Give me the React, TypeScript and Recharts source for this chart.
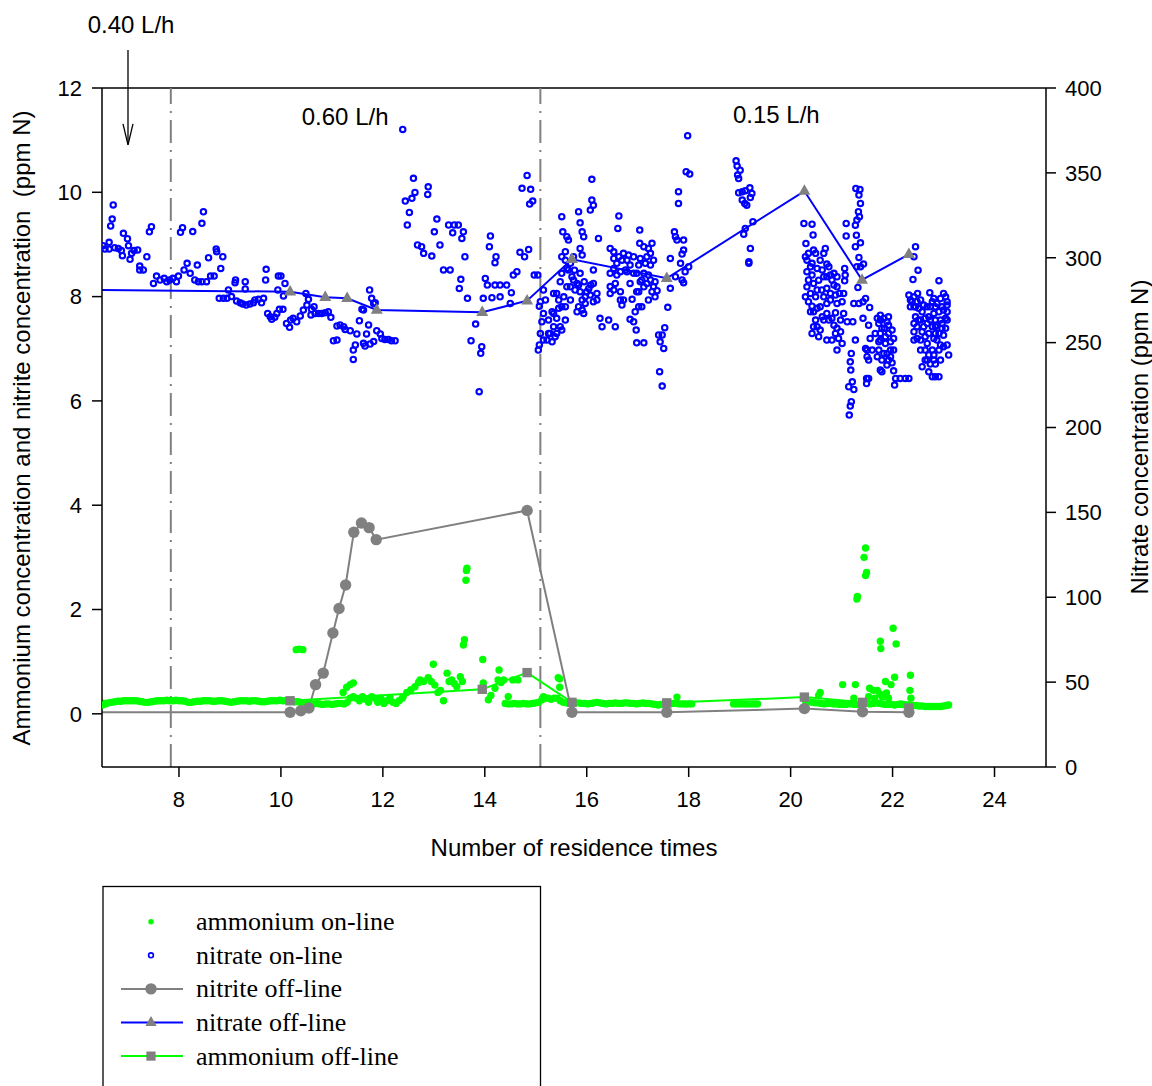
import React from "react";
import { ComposedChart, Scatter, Line, XAxis, YAxis, ReferenceLine } from "recharts";

const W = 1152;
const H = 1086;
const PLOT = { left: 102, top: 88, right: 1046, bottom: 767 };

const xDomain: [number, number] = [6.49, 25.01];
const leftDomain: [number, number] = [-1.02, 12];
const rightDomain: [number, number] = [0, 400];
const xTicks = [8, 10, 12, 14, 16, 18, 20, 22, 24];
const leftTicks = [0, 2, 4, 6, 8, 10, 12];
const rightTicks = [0, 50, 100, 150, 200, 250, 300, 350, 400];

// flow-rate changes (residence times)
const flowChanges = [7.84, 15.09];
const rateLabels = [
  { text: "0.40 L/h", x: 7.06, y: 13.05 },
  { text: "0.60 L/h", x: 11.26, y: 11.3 },
  { text: "0.15 L/h", x: 19.72, y: 11.33 },
];
const arrow = { x: 7.0, from: 12.73, to: 10.91 };

// off-line samples
const nitriteOffline: [number, number][] = [
  [6.3, 0.03], [10.18, 0.03], [10.39, 0.06], [10.55, 0.11], [10.68, 0.56], [10.83, 0.78],
  [11.02, 1.55], [11.14, 2.02], [11.27, 2.47], [11.43, 3.48], [11.58, 3.66], [11.73, 3.57],
  [11.87, 3.34], [14.83, 3.9], [15.71, 0.03], [17.57, 0.03], [20.27, 0.1], [21.41, 0.04], [22.32, 0.03],
];
const nitrateOffline: [number, number][] = [
  [6.3, 281.1], [10.18, 280.0], [10.87, 276.7], [11.3, 276.1], [11.88, 269.2], [13.95, 267.9],
  [14.83, 274.7], [15.71, 299.1], [17.57, 287.9], [20.27, 339.3], [21.4, 286.9], [22.32, 302.0],
];
const ammoniumOffline: [number, number][] = [
  [6.3, 0.25], [10.18, 0.25], [13.95, 0.47], [14.83, 0.79], [15.71, 0.22], [17.57, 0.21],
  [20.27, 0.32], [21.41, 0.22], [22.32, 0.11],
];

// on-line probes
const ammoniumOnline: [number, number][] = [
  [6.5, 0.17], [6.56, 0.19], [6.62, 0.21], [6.68, 0.22], [6.74, 0.23], [6.8, 0.24], [6.86, 0.24], [6.92, 0.25],
  [6.98, 0.25], [7.04, 0.25], [7.1, 0.25], [7.16, 0.25], [7.22, 0.24], [7.28, 0.23], [7.34, 0.22], [7.4, 0.22],
  [7.46, 0.23], [7.52, 0.24], [7.58, 0.25], [7.64, 0.25], [7.7, 0.25], [7.76, 0.26], [7.82, 0.25], [7.88, 0.25],
  [7.94, 0.26], [8.0, 0.25], [8.06, 0.25], [8.12, 0.24], [8.18, 0.22], [8.24, 0.22], [8.3, 0.23], [8.36, 0.24],
  [8.42, 0.24], [8.48, 0.25], [8.54, 0.25], [8.6, 0.25], [8.66, 0.24], [8.72, 0.24], [8.78, 0.25], [8.84, 0.25],
  [8.9, 0.24], [8.96, 0.23], [9.02, 0.22], [9.08, 0.23], [9.14, 0.24], [9.2, 0.25], [9.26, 0.25], [9.32, 0.25],
  [9.38, 0.24], [9.44, 0.25], [9.5, 0.25], [9.56, 0.24], [9.62, 0.23], [9.68, 0.23], [9.74, 0.24], [9.8, 0.25],
  [9.86, 0.25], [9.92, 0.25], [9.98, 0.26], [10.04, 0.25], [10.1, 0.25], [10.16, 0.25], [10.22, 0.24],
  [10.28, 0.23], [10.34, 0.23], [10.4, 0.22], [10.46, 0.21], [10.52, 0.2], [10.58, 0.19],
  [10.3, 1.23], [10.36, 1.24], [10.43, 1.23],
  [10.64, 0.19], [10.7, 0.2], [10.76, 0.19], [10.82, 0.18], [10.88, 0.19], [10.94, 0.19], [11.0, 0.18],
  [11.06, 0.19], [11.12, 0.2], [11.18, 0.2], [11.24, 0.19],
  [11.22, 0.41], [11.29, 0.51], [11.36, 0.56], [11.42, 0.59],
  [11.3, 0.22], [11.36, 0.3], [11.42, 0.33], [11.48, 0.3], [11.54, 0.25], [11.6, 0.33], [11.66, 0.28],
  [11.72, 0.22], [11.78, 0.33], [11.84, 0.3], [11.9, 0.22], [11.96, 0.3], [12.02, 0.2], [12.08, 0.25],
  [12.14, 0.31], [12.2, 0.22], [12.26, 0.2], [12.32, 0.25], [12.38, 0.3],
  [12.4, 0.33], [12.47, 0.41], [12.55, 0.46], [12.63, 0.52], [12.7, 0.6], [12.73, 0.65], [12.8, 0.62],
  [12.89, 0.69], [12.95, 0.62], [12.99, 0.95], [13.02, 0.55], [13.08, 0.41], [13.13, 0.45], [13.19, 0.25],
  [13.26, 0.78], [13.3, 0.62], [13.35, 0.65], [13.4, 0.58], [13.45, 0.52], [13.52, 0.71], [13.56, 0.62],
  [13.58, 1.32], [13.6, 1.42], [13.63, 2.56], [13.65, 2.79], [13.64, 2.75],
  [13.96, 1.04], [13.97, 0.59], [14.07, 0.27], [14.12, 0.35], [14.2, 0.49], [14.26, 0.65], [14.28, 0.84],
  [14.32, 0.6], [14.37, 0.65], [14.46, 0.33], [14.55, 0.65], [14.65, 0.65],
  [14.4, 0.2], [14.46, 0.19], [14.52, 0.19], [14.58, 0.2], [14.64, 0.19], [14.7, 0.19], [14.76, 0.2],
  [14.82, 0.19], [14.88, 0.19], [14.94, 0.2], [15.0, 0.21], [15.06, 0.22], [15.12, 0.27], [15.18, 0.3],
  [15.24, 0.3], [15.3, 0.28], [15.36, 0.3], [15.42, 0.3], [15.15, 0.33], [15.44, 0.69], [15.47, 0.67],
  [15.47, 0.51], [15.48, 0.25],
  [15.54, 0.22], [15.6, 0.21], [15.66, 0.2], [15.72, 0.2], [15.78, 0.21], [15.84, 0.21], [15.9, 0.2],
  [15.96, 0.2], [16.02, 0.19], [16.08, 0.2], [16.14, 0.21], [16.2, 0.22], [16.26, 0.21], [16.32, 0.2],
  [16.38, 0.19], [16.44, 0.2], [16.5, 0.2], [16.56, 0.21], [16.62, 0.2], [16.68, 0.2], [16.74, 0.21],
  [16.8, 0.21], [16.86, 0.2], [16.92, 0.2], [16.98, 0.19], [17.04, 0.2], [17.1, 0.21], [17.16, 0.2],
  [17.22, 0.2], [17.28, 0.19], [17.34, 0.18], [17.4, 0.17], [17.46, 0.18], [17.52, 0.19], [17.58, 0.2],
  [17.64, 0.19], [17.7, 0.2], [17.76, 0.2], [17.82, 0.19], [17.88, 0.19], [17.94, 0.19], [18.0, 0.19],
  [18.06, 0.19], [17.77, 0.32],
  [18.88, 0.19], [18.94, 0.19], [19.0, 0.19], [19.06, 0.19], [19.12, 0.19], [19.18, 0.19], [19.24, 0.19],
  [19.3, 0.19], [19.35, 0.19],
  [20.3, 0.22], [20.36, 0.23], [20.42, 0.22], [20.48, 0.21], [20.54, 0.21], [20.6, 0.2], [20.66, 0.19],
  [20.72, 0.2], [20.78, 0.2], [20.84, 0.19], [20.9, 0.19], [20.96, 0.18], [21.02, 0.18], [21.08, 0.18],
  [21.14, 0.19], [21.2, 0.19], [21.26, 0.18], [21.32, 0.18], [21.38, 0.19], [21.44, 0.2], [21.5, 0.2],
  [21.56, 0.19], [21.62, 0.2], [21.68, 0.21], [21.74, 0.2], [21.8, 0.19], [21.86, 0.18], [21.92, 0.18],
  [21.98, 0.18], [22.04, 0.17], [22.1, 0.18], [22.16, 0.19], [22.22, 0.18], [22.28, 0.17], [22.34, 0.17],
  [22.4, 0.16], [22.46, 0.16], [22.52, 0.15], [22.58, 0.15], [22.64, 0.14], [22.7, 0.14], [22.76, 0.14],
  [22.82, 0.14], [22.88, 0.14], [22.94, 0.14], [23.0, 0.15], [23.06, 0.16], [23.1, 0.17],
  [20.58, 0.41], [20.55, 0.35], [21.02, 0.56], [21.27, 0.56], [21.47, 3.18], [21.44, 3.0], [21.49, 2.71],
  [21.47, 2.65], [21.31, 2.25], [21.3, 2.2], [21.76, 1.39], [21.77, 1.25], [22.07, 1.34], [22.01, 1.64],
  [22.04, 0.7], [21.86, 0.62], [21.97, 0.56], [22.35, 0.74], [22.34, 0.45], [21.55, 0.49], [21.24, 0.3],
  [21.53, 0.33], [21.7, 0.45], [21.75, 0.38], [21.8, 0.32], [21.88, 0.4], [21.92, 0.3], [21.65, 0.3],
  [21.62, 0.45], [22.36, 0.3],
];

const nitrateOnline: [number, number][] = [
  [6.51, 307.1], [6.55, 305.1], [6.63, 309.1], [6.63, 305.1], [6.71, 331.1], [6.69, 322.8], [6.66, 318.7],
  [6.74, 305.9], [6.81, 305.5], [6.91, 314.4], [6.99, 311.2], [6.87, 304.2], [6.89, 301.2], [7.01, 307.1],
  [7.04, 299.1], [7.07, 302.6], [7.12, 304.2], [7.19, 304.6], [7.23, 295.1], [7.23, 292.8], [7.3, 292.8],
  [7.37, 300.6], [7.42, 315.3], [7.46, 318.3], [7.5, 284.9], [7.56, 289.2], [7.63, 286.9], [7.71, 287.9],
  [7.76, 285.9], [7.82, 286.9], [7.88, 287.9], [7.95, 285.9], [7.99, 289.2], [8.07, 317.7], [8.03, 315.0],
  [8.1, 292.8], [8.16, 296.7], [8.22, 290.8], [8.27, 315.4], [8.31, 286.9], [8.38, 285.9], [8.36, 295.7],
  [8.45, 285.9], [8.48, 327.1], [8.45, 320.3], [8.54, 285.9], [8.58, 300.0], [8.62, 289.2], [8.69, 289.2],
  [8.73, 305.1], [8.74, 303.6], [8.82, 293.7], [8.86, 300.6], [8.79, 276.1], [8.87, 276.1], [8.94, 276.1],
  [8.97, 281.0], [9.03, 277.1], [9.11, 286.9], [9.1, 285.3], [9.13, 274.5], [9.2, 273.5], [9.25, 272.7],
  [9.3, 285.9], [9.3, 281.6], [9.32, 272.1], [9.39, 272.7], [9.46, 273.5], [9.49, 275.1], [9.56, 275.5],
  [9.62, 273.5], [9.66, 276.1], [9.71, 293.2], [9.7, 286.9], [9.74, 267.2], [9.79, 265.3], [9.82, 263.7],
  [9.88, 264.9], [9.92, 267.2], [9.97, 269.6], [10.04, 269.6], [9.95, 289.2], [10.0, 289.2], [9.94, 281.0],
  [10.05, 277.5], [10.08, 284.9], [10.11, 261.3], [10.17, 259.0], [10.19, 263.3], [10.24, 264.3],
  [10.31, 262.3], [10.38, 265.7], [10.44, 269.2], [10.49, 279.0], [10.54, 275.5], [10.51, 272.1],
  [10.59, 266.3], [10.6, 269.6], [10.65, 271.2], [10.67, 267.2], [10.74, 267.2], [10.8, 267.2], [10.87, 267.6],
  [10.93, 268.2], [10.98, 264.9], [11.1, 259.8], [11.16, 260.4], [11.23, 259.4], [11.26, 257.8], [11.36, 257.0],
  [11.1, 251.5], [11.03, 251.1], [11.42, 245.6], [11.46, 248.6], [11.49, 255.1], [11.54, 262.9], [11.59, 269.6],
  [11.62, 269.2], [11.68, 255.1], [11.74, 281.0], [11.72, 260.4], [11.78, 276.1], [11.82, 273.1], [11.85, 273.5],
  [11.75, 249.2], [11.82, 250.6], [11.62, 249.6], [11.65, 248.0], [11.88, 257.0], [11.95, 255.1], [11.98, 252.5],
  [12.04, 251.9], [12.11, 251.9], [12.17, 251.1], [12.24, 251.1], [11.42, 240.1],
  [12.39, 375.6], [12.6, 346.8], [12.63, 338.5], [12.57, 335.0], [12.44, 333.4], [12.52, 326.7], [12.48, 319.3],
  [12.89, 341.8], [12.88, 337.3], [13.06, 322.8], [13.01, 315.3], [13.29, 319.3], [13.4, 319.3], [13.48, 319.3],
  [13.58, 315.3], [13.37, 314.7], [13.55, 311.4], [12.68, 307.5], [12.76, 306.5], [12.8, 302.6], [12.96, 301.0],
  [13.12, 307.5], [13.61, 300.6], [13.19, 292.8], [13.32, 292.8], [13.53, 287.3], [13.5, 281.9], [13.66, 276.1],
  [14.11, 312.8], [14.09, 306.5], [14.22, 300.6], [14.2, 297.1], [14.01, 287.8], [14.05, 283.9], [14.2, 283.9],
  [14.3, 283.9], [14.43, 283.9], [14.14, 276.5], [14.3, 277.0], [13.97, 276.1], [14.5, 273.1], [14.52, 279.4],
  [14.56, 289.8], [14.63, 291.8], [14.69, 303.2], [14.78, 300.6], [14.86, 304.9], [14.97, 289.8], [15.04, 289.8],
  [14.83, 348.5], [14.73, 340.9], [14.9, 340.3], [14.94, 333.4], [14.88, 331.6], [13.82, 260.9], [13.73, 251.1],
  [13.94, 247.6], [13.92, 243.7], [13.89, 221.1],
  [15.15, 281.0], [15.09, 274.1], [15.15, 267.2], [15.12, 262.3], [15.09, 255.4], [15.07, 248.6], [15.05, 245.6],
  [15.22, 251.5], [15.28, 255.4], [15.32, 268.2], [15.35, 259.4], [15.41, 264.3], [15.48, 259.4], [15.38, 253.5],
  [15.58, 263.3], [15.51, 271.1], [15.41, 279.0], [15.48, 285.9], [15.51, 290.8], [15.58, 298.6], [15.64, 292.8],
  [15.71, 288.8], [15.74, 286.9], [15.55, 277.0], [15.68, 275.1], [15.77, 281.0], [15.84, 283.9], [15.91, 275.1],
  [15.97, 277.0], [16.04, 281.9], [16.08, 283.9], [15.95, 285.9], [15.87, 290.8], [15.81, 268.2], [15.91, 269.2],
  [15.97, 273.1], [16.13, 274.1], [16.2, 275.1], [15.53, 315.3], [15.51, 324.2], [15.61, 312.4], [15.64, 310.4],
  [15.84, 327.1], [15.87, 320.6], [15.91, 315.3], [15.94, 312.4], [15.87, 305.5], [15.91, 301.6], [16.1, 346.2],
  [16.1, 334.0], [16.13, 331.0], [16.07, 328.1], [16.23, 311.4], [16.13, 292.8], [16.26, 264.3], [16.3, 259.4],
  [15.07, 271.5], [15.19, 275.1], [15.25, 263.3], [15.35, 267.2], [15.45, 270.2], [15.51, 257.4], [15.25, 255.4],
  [15.15, 251.5], [15.32, 250.5], [15.41, 255.4], [15.35, 279.0], [15.45, 275.1], [15.58, 271.2], [15.61, 282.9],
  [15.68, 282.9], [15.81, 284.9], [15.87, 280.0], [16.0, 280.0], [16.07, 278.0], [15.61, 293.7], [15.68, 296.7],
  [15.74, 300.6], [15.51, 300.6], [15.58, 303.6], [15.76, 292.7], [16.13, 284.9], [16.2, 279.0], [15.94, 267.2],
  [15.84, 271.2],
  [16.43, 263.3], [16.56, 259.4], [16.63, 324.6], [16.61, 317.3], [16.46, 305.5], [16.53, 299.6], [16.59, 296.7],
  [16.46, 290.8], [16.59, 289.8], [16.56, 284.9], [16.46, 283.0], [16.66, 280.0], [16.66, 275.1], [16.53, 281.0],
  [16.72, 302.6], [16.79, 298.6], [16.85, 295.7], [16.76, 292.8], [16.92, 290.8], [16.85, 284.9], [16.89, 275.5],
  [16.98, 280.0], [16.95, 268.2], [17.02, 271.1], [17.08, 271.1], [16.85, 263.7], [16.92, 262.3], [16.97, 257.4],
  [16.98, 249.9], [17.12, 249.9], [17.04, 316.3], [17.04, 308.5], [17.12, 306.5], [17.21, 305.5], [17.28, 308.5],
  [17.05, 299.6], [17.15, 296.7], [17.25, 295.7], [17.12, 290.8], [17.21, 289.8], [17.18, 284.9], [17.31, 283.0],
  [17.38, 280.6], [17.34, 277.0], [17.02, 280.0], [17.05, 285.9], [17.41, 254.5], [17.48, 254.5], [17.53, 258.8],
  [16.53, 303.5], [16.63, 300.6], [16.69, 298.6], [16.82, 301.6], [16.92, 300.6], [17.02, 295.7], [17.18, 300.6],
  [17.25, 302.6], [17.31, 298.6], [16.79, 291.8], [16.98, 290.8], [17.08, 286.9], [17.25, 286.9], [17.34, 285.9],
  [16.66, 291.8], [16.53, 293.7], [16.46, 279.0], [16.72, 275.1], [17.12, 282.9], [17.28, 280.0], [17.21, 275.1],
  [16.69, 272.1],
  [17.44, 250.5], [17.51, 246.6], [17.43, 232.9], [17.48, 224.4], [17.59, 270.8], [17.64, 282.0], [17.64, 299.6],
  [17.72, 315.3], [17.74, 312.4], [17.77, 310.4], [17.9, 310.4], [17.9, 304.5], [17.87, 302.2], [17.84, 296.7],
  [17.74, 288.8], [17.87, 286.9], [17.93, 291.8], [18.0, 294.7], [17.8, 338.9], [17.8, 332.0], [17.95, 350.7],
  [18.02, 349.3], [17.98, 371.9], [17.9, 285.3],
  [18.93, 357.1], [18.95, 354.0], [18.96, 348.7], [19.01, 351.6], [18.98, 346.7], [19.05, 338.9], [18.98, 338.3],
  [19.11, 339.5], [19.2, 341.2], [19.24, 337.9], [19.21, 335.5], [19.05, 334.0], [19.1, 332.0], [19.14, 331.0],
  [19.26, 321.2], [19.11, 317.3], [19.08, 313.9], [19.21, 305.5], [19.18, 297.6], [19.18, 296.7],
  [20.26, 320.2], [20.42, 319.8], [20.44, 313.4], [20.3, 308.4], [20.29, 300.6], [20.35, 302.6], [20.42, 296.7],
  [20.49, 302.6], [20.39, 294.7], [20.32, 291.8], [20.42, 289.8], [20.52, 293.7], [20.62, 292.8], [20.71, 296.3],
  [20.68, 305.5], [20.65, 302.6], [20.75, 294.7], [20.35, 286.9], [20.32, 282.9], [20.29, 277.0], [20.35, 274.1],
  [20.42, 271.5], [20.39, 268.2], [20.45, 268.2], [20.52, 270.2], [20.58, 271.1], [20.49, 263.3], [20.52, 259.4],
  [20.58, 257.4], [20.55, 253.5], [20.52, 281.0], [20.61, 281.0], [20.71, 282.0], [20.78, 289.8], [20.81, 286.9],
  [20.85, 283.9], [20.91, 282.9], [20.96, 279.0], [21.04, 279.0], [20.88, 278.0], [20.78, 275.1], [20.71, 273.1],
  [20.91, 273.1], [21.01, 274.1], [20.88, 267.6], [20.81, 264.3], [20.75, 263.3], [20.85, 260.3], [20.91, 258.4],
  [20.98, 256.4], [20.88, 255.4], [20.94, 252.5], [21.01, 249.5], [20.91, 245.6], [21.06, 293.7], [21.07, 289.8],
  [20.32, 298.6], [20.45, 304.5], [20.58, 298.6], [20.65, 288.8], [20.45, 284.9], [20.55, 286.8], [20.71, 288.8],
  [20.85, 290.8], [20.91, 288.8], [20.39, 279.0], [20.49, 277.0], [20.65, 277.0], [20.78, 279.0], [20.71, 267.2],
  [20.65, 263.3], [20.62, 265.2], [20.45, 259.4], [20.42, 255.4], [20.71, 251.5], [20.81, 251.5], [20.98, 263.3],
  [21.04, 267.2],
  [21.06, 286.4], [21.09, 320.2], [21.09, 312.8], [21.27, 319.2], [21.29, 313.3], [21.27, 306.5], [21.37, 308.8],
  [21.34, 300.2], [21.43, 296.3], [21.37, 294.7], [21.3, 294.7], [21.32, 282.5], [21.24, 273.1], [21.34, 273.1],
  [21.42, 274.1], [21.47, 276.0], [21.28, 340.8], [21.36, 340.2], [21.34, 336.9], [21.37, 332.0], [21.33, 327.1],
  [21.35, 324.2], [21.3, 322.2], [21.42, 264.3], [21.55, 270.7], [21.53, 260.3], [21.22, 262.3], [21.11, 262.3],
  [21.27, 251.5], [21.19, 243.6], [21.17, 238.7], [21.18, 233.8], [21.21, 226.9], [21.14, 224.0], [21.24, 222.4],
  [21.19, 215.2], [21.17, 212.6], [21.15, 207.3], [21.49, 228.9], [21.53, 228.9], [21.49, 225.9], [21.47, 246.6],
  [21.5, 241.7], [21.7, 264.3], [21.76, 263.3], [21.83, 264.3], [21.89, 262.3], [21.84, 258.4], [21.76, 255.4],
  [21.92, 255.4], [21.99, 257.4], [22.02, 252.5], [21.96, 250.5], [21.86, 249.5], [21.76, 251.5], [21.73, 245.6],
  [21.7, 241.7], [21.89, 243.6], [21.96, 241.7], [22.02, 245.6], [21.92, 239.7], [21.99, 238.1], [22.02, 233.4],
  [21.76, 233.8], [21.79, 232.8], [22.06, 228.9], [22.15, 228.9], [22.25, 228.9], [22.32, 228.9], [22.04, 225.0],
  [21.56, 252.5], [21.6, 245.6], [21.5, 245.6], [21.53, 239.7],
  [21.73, 261.3], [21.79, 258.4], [21.92, 260.3], [21.86, 253.5], [21.73, 250.5], [21.83, 243.6], [21.89, 236.8],
  [21.79, 239.7], [21.96, 245.6], [21.66, 255.4], [21.76, 266.2], [21.92, 265.2],
  [22.45, 306.5], [22.42, 300.6], [22.5, 292.7], [22.4, 287.2], [22.32, 278.0], [22.42, 277.0], [22.49, 279.0],
  [22.55, 275.1], [22.38, 274.1], [22.45, 271.1], [22.35, 271.1], [22.51, 270.2], [22.58, 268.2], [22.68, 271.1],
  [22.73, 279.4], [22.78, 274.1], [22.87, 273.1], [22.94, 276.0], [23.0, 279.0], [23.04, 277.0], [22.91, 286.5],
  [22.71, 265.2], [22.81, 267.2], [22.91, 268.2], [23.0, 269.2], [23.07, 268.2], [22.84, 263.3], [22.94, 263.3],
  [23.04, 264.3], [22.68, 261.3], [22.78, 259.4], [22.87, 260.3], [22.97, 258.4], [23.04, 258.4], [22.42, 256.4],
  [22.58, 256.4], [22.48, 252.5], [22.55, 251.5], [22.64, 253.5], [22.81, 252.5], [22.84, 255.4], [23.07, 248.6],
  [23.0, 247.6], [22.91, 245.6], [22.78, 245.6], [22.64, 245.6], [22.55, 245.6], [22.71, 242.7], [22.81, 242.7],
  [23.1, 242.7], [22.68, 239.7], [22.74, 237.4], [22.84, 237.4], [22.58, 235.8], [22.71, 232.8], [22.78, 229.9],
  [22.84, 229.9], [22.91, 229.9], [22.42, 261.3], [22.51, 263.3], [22.64, 264.3],
  [22.42, 271.1], [22.48, 274.1], [22.61, 272.1], [22.74, 271.1], [22.84, 271.1], [22.97, 271.1], [23.07, 272.1],
  [22.45, 265.2], [22.55, 263.3], [22.74, 263.3], [22.97, 261.3], [23.07, 263.3], [22.61, 259.4], [22.48, 259.4],
  [22.84, 259.4], [22.71, 255.4], [22.91, 255.4], [23.0, 254.4], [22.42, 251.5], [22.68, 249.5], [22.87, 251.5],
  [22.94, 248.6], [22.81, 239.7], [22.64, 239.7], [22.94, 239.7], [23.07, 274.1], [22.81, 276.0], [22.35, 275.1],
];

const legendItems = [
  { label: "ammonium on-line", kind: "dot" },
  { label: "nitrate on-line", kind: "ring" },
  { label: "nitrite off-line", kind: "circle" },
  { label: "nitrate off-line", kind: "triangle" },
  { label: "ammonium off-line", kind: "square" },
];

const GRAY = "#808080";
const BLUE = "#0000FF";
const GREEN = "#00FF00";
const SANS = "'Liberation Sans', Arial, Helvetica, sans-serif";
const SERIF = "'Liberation Serif', 'Times New Roman', serif";

const toPoints = (pairs: [number, number][]) => pairs.map(([x, y]) => ({ x, y }));

const sx = (x: number) =>
  PLOT.left + ((x - xDomain[0]) / (xDomain[1] - xDomain[0])) * (PLOT.right - PLOT.left);
const sy = (y: number) =>
  PLOT.bottom - ((y - leftDomain[0]) / (leftDomain[1] - leftDomain[0])) * (PLOT.bottom - PLOT.top);

const GreenDot = (p: any) => <circle cx={p.cx} cy={p.cy} r={3.7} fill={GREEN} />;
const BlueRing = (p: any) => (
  <circle cx={p.cx} cy={p.cy} r={2.7} fill="none" stroke={BLUE} strokeWidth={2.1} />
);
const CircleDot = (p: any) =>
  p.cx == null ? null : <circle key={`c${p.index}`} cx={p.cx} cy={p.cy} r={5.7} fill={GRAY} />;
const TriangleDot = (p: any) =>
  p.cx == null ? null : (
    <path
      key={`t${p.index}`}
      d={`M${p.cx},${p.cy - 6.8} L${p.cx + 6},${p.cy + 3.7} L${p.cx - 6},${p.cy + 3.7} Z`}
      fill={GRAY}
    />
  );
const SquareDot = (p: any) =>
  p.cx == null ? null : (
    <rect key={`s${p.index}`} x={p.cx - 4.7} y={p.cy - 4.7} width={9.4} height={9.4} fill={GRAY} />
  );

const tickStyle = { fontSize: 22, fill: "#000", fontFamily: SANS };

function LegendSymbol({ kind, cx, cy }: { kind: string; cx: number; cy: number }) {
  const lineColor = kind === "circle" ? GRAY : kind === "triangle" ? BLUE : GREEN;
  return (
    <g>
      {kind === "dot" && <circle cx={cx} cy={cy} r={2.7} fill={GREEN} />}
      {kind === "ring" && <circle cx={cx} cy={cy} r={2.4} fill="none" stroke={BLUE} strokeWidth={1.6} />}
      {(kind === "circle" || kind === "triangle" || kind === "square") && (
        <line x1={cx - 30} x2={cx + 32} y1={cy} y2={cy} stroke={lineColor} strokeWidth={2} />
      )}
      {kind === "circle" && <circle cx={cx} cy={cy} r={5.7} fill={GRAY} />}
      {kind === "triangle" && (
        <path d={`M${cx},${cy - 6.5} L${cx + 5.6},${cy + 3.5} L${cx - 5.6},${cy + 3.5} Z`} fill={GRAY} />
      )}
      {kind === "square" && <rect x={cx - 4.6} y={cy - 4.6} width={9.2} height={9.2} fill={GRAY} />}
    </g>
  );
}

function Overlay() {
  const ax = sx(arrow.x);
  const tipY = sy(arrow.to);
  return (
    <svg
      width={W}
      height={H}
      style={{ position: "absolute", left: 0, top: 0, pointerEvents: "none" }}
    >
      {rateLabels.map((l) => (
        <text
          key={l.text}
          x={sx(l.x)}
          y={sy(l.y)}
          textAnchor="middle"
          fontSize={24}
          fontFamily={SANS}
          fill="#000"
        >
          {l.text}
        </text>
      ))}
      <line x1={ax} x2={ax} y1={sy(arrow.from)} y2={tipY} stroke="#000" strokeWidth={1.3} />
      <polyline
        points={`${ax - 5},${tipY - 21} ${ax},${tipY} ${ax + 5},${tipY - 21}`}
        fill="none"
        stroke="#000"
        strokeWidth={1.3}
      />
      <text x={574} y={856} textAnchor="middle" fontSize={24} fontFamily={SANS} fill="#000">
        Number of residence times
      </text>
      <text
        transform="translate(30,428) rotate(-90)"
        textAnchor="middle"
        fontSize={24}
        fontFamily={SANS}
        fill="#000"
        style={{ whiteSpace: "pre" }}
      >
        {"Ammonium concentration and nitrite concentration  (ppm N)"}
      </text>
      <text
        transform="translate(1148,437) rotate(-90)"
        textAnchor="middle"
        fontSize={24}
        fontFamily={SANS}
        fill="#000"
      >
        Nitrate concentration (ppm N)
      </text>
      <rect x={103} y={886.5} width={437.5} height={220} fill="none" stroke="#000" strokeWidth={1.3} />
      {legendItems.map((item, i) => {
        const cy = 921.7 + i * 33.6;
        return (
          <g key={item.label}>
            <LegendSymbol kind={item.kind} cx={151} cy={cy} />
            <text x={196} y={cy + 8.5} fontSize={26} fontFamily={SERIF} fill="#000">
              {item.label}
            </text>
          </g>
        );
      })}
    </svg>
  );
}

export default function App() {
  return (
    <div style={{ position: "absolute", left: 0, top: 0, width: W, height: H, background: "#fff" }}>
      <ComposedChart
        width={W}
        height={H}
        margin={{ top: PLOT.top, left: PLOT.left - 60, right: W - PLOT.right - 60, bottom: H - PLOT.bottom - 40 }}
      >
        <XAxis
          type="number"
          dataKey="x"
          domain={xDomain}
          ticks={xTicks}
          interval={0}
          allowDataOverflow
          height={40}
          tickSize={10}
          tickMargin={14}
          tick={tickStyle}
          stroke="#000"
          strokeWidth={1.5}
        />
        <YAxis
          yAxisId="left"
          type="number"
          domain={leftDomain}
          ticks={leftTicks}
          interval={0}
          allowDataOverflow
          width={60}
          tickSize={10}
          tickMargin={10}
          tick={tickStyle}
          stroke="#000"
          strokeWidth={1.5}
        />
        <YAxis
          yAxisId="right"
          orientation="right"
          type="number"
          domain={rightDomain}
          ticks={rightTicks}
          interval={0}
          allowDataOverflow
          width={60}
          tickSize={10}
          tickMargin={9}
          tick={tickStyle}
          stroke="#000"
          strokeWidth={1.5}
        />
        <ReferenceLine yAxisId="left" y={12} stroke="#000" strokeWidth={1.5} />
        {flowChanges.map((x) => (
          <ReferenceLine
            key={x}
            yAxisId="left"
            x={x}
            stroke={GRAY}
            strokeWidth={2}
            strokeDasharray="23 7 2 7"
          />
        ))}
        <Scatter
          yAxisId="left"
          data={toPoints(ammoniumOnline)}
          dataKey="y"
          shape={GreenDot}
          isAnimationActive={false}
        />
        <Scatter
          yAxisId="right"
          data={toPoints(nitrateOnline)}
          dataKey="y"
          shape={BlueRing}
          isAnimationActive={false}
        />
        <Line
          yAxisId="left"
          data={toPoints(nitriteOffline)}
          dataKey="y"
          stroke={GRAY}
          strokeWidth={2}
          dot={CircleDot}
          activeDot={false}
          isAnimationActive={false}
        />
        <Line
          yAxisId="right"
          data={toPoints(nitrateOffline)}
          dataKey="y"
          stroke={BLUE}
          strokeWidth={2}
          dot={TriangleDot}
          activeDot={false}
          isAnimationActive={false}
        />
        <Line
          yAxisId="left"
          data={toPoints(ammoniumOffline)}
          dataKey="y"
          stroke={GREEN}
          strokeWidth={2}
          dot={SquareDot}
          activeDot={false}
          isAnimationActive={false}
        />
      </ComposedChart>
      <Overlay />
    </div>
  );
}
